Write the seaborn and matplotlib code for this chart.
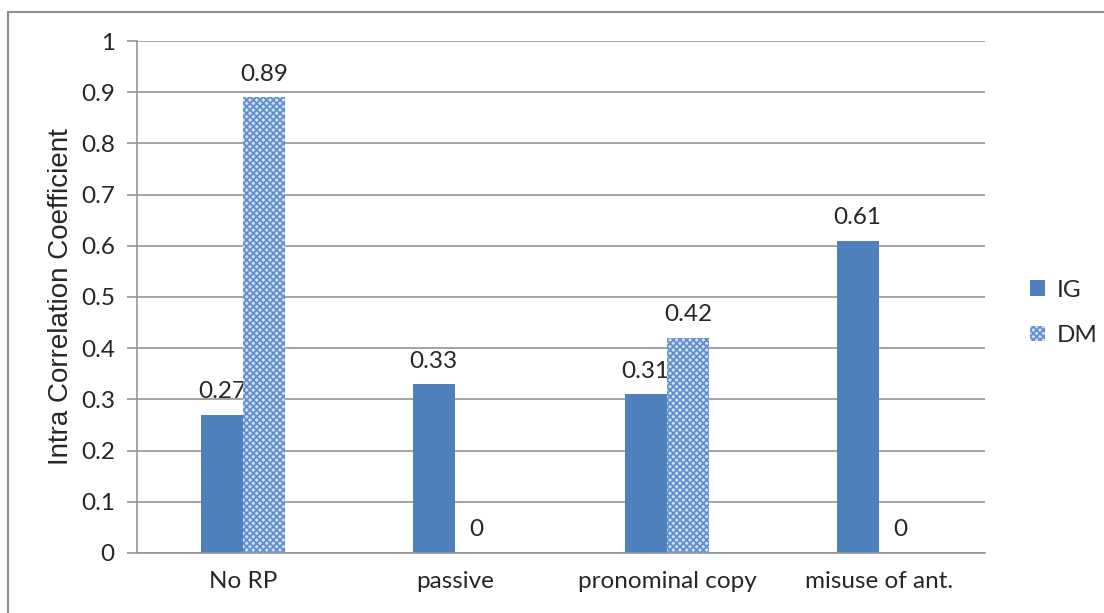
import matplotlib
matplotlib.use("Agg")
import matplotlib.pyplot as plt
import seaborn as sns
import pandas as pd
from matplotlib.patches import Rectangle

categories = ["No RP", "passive", "pronominal copy", "misuse of ant."]
ig_values = [0.27, 0.33, 0.31, 0.61]
dm_values = [0.89, 0.0, 0.42, 0.0]
series = ["IG", "DM"]
y_ticks = [0, 0.1, 0.2, 0.3, 0.4, 0.5, 0.6, 0.7, 0.8, 0.9, 1]

df = pd.DataFrame({
    "category": categories * 2,
    "series": ["IG"] * len(categories) + ["DM"] * len(categories),
    "value": ig_values + dm_values,
})

sns.set_theme(style="white")
plt.rcParams["font.family"] = ["Lato", "DejaVu Sans"]
plt.rcParams["hatch.linewidth"] = 1.3

FS = 17.5
blue = "#4f81bd"
dm_face = "#d3e0f1"
dm_hatch = "#5d8fcf"
grid_col = "#959595"

fig = plt.figure(figsize=(11.04, 6.13), dpi=100)
ax = fig.add_axes([0.1241, 0.0979, 0.768, 0.8352])

sns.barplot(data=df, x="category", y="value", hue="series", order=categories,
            hue_order=series, palette=[blue, dm_face], width=0.4, gap=0,
            saturation=1, ax=ax, legend=False, edgecolor="none", linewidth=0)

containers = ax.containers
for bar in containers[1]:
    bar.set_hatch("xxxxx")
    bar.set_edgecolor(dm_hatch)
    bar.set_linewidth(0)
    bar.set_zorder(2)

for i, cont in enumerate(containers):
    texts = ax.bar_label(cont, labels=[f"{v:g}" for v in cont.datavalues],
                         padding=9, fontsize=FS)
    # IG labels sit behind the neighbouring DM bars
    for t in texts:
        t.set_zorder(1.5 if i == 0 else 3)

ax.set_ylim(0, 1)
ax.set_yticks(y_ticks)
ax.set_yticklabels([f"{t:g}" for t in y_ticks], fontsize=FS)
ax.set_xlim(-0.5, 3.5)
ax.tick_params(axis="x", labelsize=FS, length=0, pad=13)
ax.tick_params(axis="y", length=7, width=1.2, color=grid_col, direction="out",
               left=True, pad=9)
ax.yaxis.grid(True, color=grid_col, linewidth=1.2)
ax.set_axisbelow(True)
for side in ["top", "right"]:
    ax.spines[side].set_visible(False)
for side in ["left", "bottom"]:
    ax.spines[side].set_color(grid_col)
    ax.spines[side].set_linewidth(1.2)
ax.set_xlabel("")
ax.set_ylabel("Intra Correlation Coefficient", fontsize=20,
              family=["Liberation Sans", "DejaVu Sans"], labelpad=5)

# Legend
h_ig = Rectangle((0, 0), 1, 1, facecolor=blue, edgecolor="none")
h_dm = Rectangle((0, 0), 1, 1, facecolor=dm_face, edgecolor=dm_hatch,
                 hatch="xxxxx", linewidth=0)
ax.legend([h_ig, h_dm], series, loc="center left", bbox_to_anchor=(1.028, 0.469),
          frameon=False, fontsize=FS, handlelength=0.6, handleheight=0.6,
          labelspacing=1.0, handletextpad=0.5)

# Outer chart border
fig.patches.append(Rectangle((8 / 1104, -0.1), 1.2, 1 - 12 / 613 + 0.1,
                             transform=fig.transFigure, fill=False,
                             edgecolor="#8c8c8c", linewidth=1.5))

fig.savefig("out.png", dpi=100)
